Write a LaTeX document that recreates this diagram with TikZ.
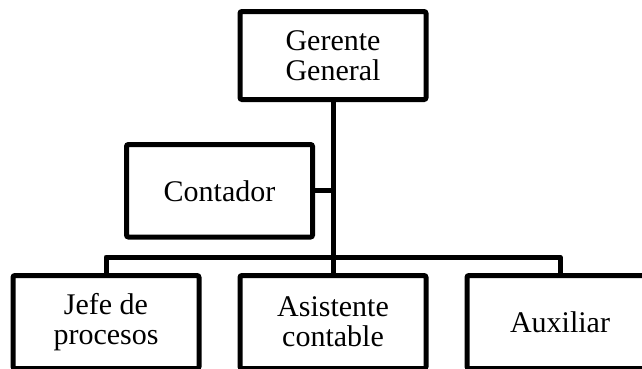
\documentclass[tikz,border=0pt]{standalone}
\usepackage{fontspec}
\setmainfont{Liberation Serif}
\begin{document}
\begin{tikzpicture}[x=1pt,y=-1pt,
  box/.style={draw=black, line width=5pt, rounded corners=2pt, fill=white,
    minimum width=186pt, inner sep=0pt, align=center,
    font=\fontsize{30}{30}\selectfont},
  link/.style={draw=black, line width=5pt, line join=round}]
\useasboundingbox (0,0) rectangle (642,368);
\clip (0,0) rectangle (642,368);
\node[box, minimum height=88pt] (g) at (333,55.5) {Gerente\\General};
\node[box, minimum height=92.5pt] (c) at (219.5,190.75) {Contador};
\node[box, minimum height=93pt] (j) at (106,322) {Jefe de\\procesos};
\node[box, minimum height=93pt] (a) at (333,322) {Asistente\\contable};
\node[box, minimum height=93pt] (x) at (560,322) {Auxiliar};
\coordinate (bus) at (333,257);
\draw[link] (g.south) -- (bus);
\draw[link] (c.east) -- (c.east -| g.south);
\draw[link] (j.north) |- (x.north |- bus) -- (x.north);
\draw[link] (bus) -- (a.north);
\end{tikzpicture}
\end{document}
